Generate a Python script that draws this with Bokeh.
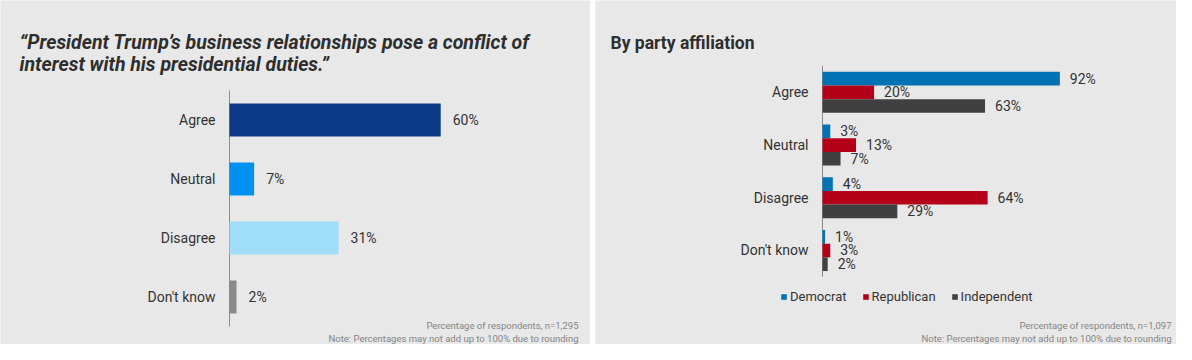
from bokeh.plotting import figure
from bokeh.models import Range1d, Label, Legend, LegendItem, ColumnDataSource
from bokeh.layouts import row
from bokeh.transform import dodge
from bokeh.embed import file_html
from bokeh.resources import INLINE
from bokeh.core.properties import value

# ---------------- data ----------------
categories = ["Agree", "Neutral", "Disagree", "Don't know"]
overall = [60, 7, 31, 2]
overall_colors = ["#0b3a87", "#0091f0", "#9fddf9", "#8a8a8a"]

parties = ["Democrat", "Republican", "Independent"]
democrat = [92, 3, 4, 1]
republican = [20, 13, 64, 3]
independent = [63, 7, 29, 2]
party_colors = ["#0071b3", "#b5001a", "#404040"]

title_left_1 = "\u201cPresident Trump\u2019s business relationships pose a conflict of"
title_left_2 = "interest with his presidential duties.\u201d"
title_right = "By party affiliation"
note_left_1 = "Percentage of respondents, n=1,295"
note_right_1 = "Percentage of respondents, n=1,097"
note_2 = "Note: Percentages may not add up to 100% due to rounding"

BG = "#e8e8e8"
FONT = "Roboto"
TXT = "#333333"
H = 344
cat_pos = list(range(len(categories)))  # 0 = top row


def base_fig(width, axis_x, px_per_pct, first_center, px_per_cat):
    xr = Range1d(-axis_x / px_per_pct, (width - axis_x) / px_per_pct)
    yr = Range1d((H - first_center) / px_per_cat, -first_center / px_per_cat)
    p = figure(width=width, height=H, output_backend="svg", toolbar_location=None,
               x_range=xr, y_range=yr, x_axis_location=None, y_axis_location=None,
               min_border=0, min_border_left=0, min_border_right=0,
               min_border_top=0, min_border_bottom=0)
    p.background_fill_color = BG
    p.border_fill_color = BG
    p.outline_line_color = None
    p.xgrid.visible = False
    p.ygrid.visible = False
    # axis line along the category bands
    p.segment(x0=[0], x1=[0], y0=[cat_pos[0] - 0.5], y1=[cat_pos[-1] + 0.5],
              line_color="#8c8c8c", line_width=1)
    # category labels
    csrc = ColumnDataSource(dict(y=cat_pos, t=categories))
    p.text(x=0, y="y", text="t", source=csrc, x_offset=-14, text_align="right",
           text_baseline="middle", text_font=value(FONT), text_font_size="14px",
           text_color=TXT)
    return p


def add_label(p, x, y, text, size, style="normal", color=TXT, align="left", baseline="alphabetic"):
    p.add_layout(Label(x=x, y=y, x_units="screen", y_units="screen", text=text,
                       text_font=FONT, text_font_size=size, text_font_style=style,
                       text_color=color, text_align=align, text_baseline=baseline))


# ---------------- left chart ----------------
W1 = 590
p1 = base_fig(W1, 229, 3.52, 119.5, 59.0)
src1 = ColumnDataSource(dict(y=cat_pos, val=overall, col=overall_colors,
                             lab=[f"{v}%" for v in overall]))
p1.hbar(y="y", right="val", left=0, height=0.56, fill_color="col", line_color=None, source=src1)
p1.text(x="val", y="y", text="lab", source=src1, x_offset=12, text_baseline="middle",
        text_font=value(FONT), text_font_size="14px", text_color=TXT)

add_label(p1, 19, H - 42, title_left_1, "19.5px", "bold italic", "#2e2e2e")
add_label(p1, 19, H - 64, title_left_2, "19.5px", "bold italic", "#2e2e2e")
add_label(p1, 578, H - 325, note_left_1, "9.5px", color="#858585", align="right", baseline="middle")
add_label(p1, 578, H - 338, note_2, "9.5px", color="#858585", align="right", baseline="middle")

# ---------------- right chart ----------------
W2 = 581
p2 = base_fig(W2, 227, 2.58, 91.8, 52.73)
src2 = ColumnDataSource(dict(y=cat_pos, dem=democrat, rep=republican, ind=independent,
                             dem_l=[f"{v}%" for v in democrat],
                             rep_l=[f"{v}%" for v in republican],
                             ind_l=[f"{v}%" for v in independent]))
offsets = [-0.26, 0.0, 0.26]
items = []
for key, name, col, off in zip(["dem", "rep", "ind"], parties, party_colors, offsets):
    r = p2.hbar(y=dodge("y", off), right=key, left=0, height=0.26,
                fill_color=col, line_color=None, source=src2)
    p2.text(x=key, y=dodge("y", off), text=key + "_l", source=src2,
            x_offset=10, text_baseline="middle", text_font=value(FONT),
            text_font_size="14px", text_color=TXT)
    items.append(LegendItem(label=name, renderers=[r]))

legend = Legend(items=items, orientation="horizontal", location=(185, 40),
                glyph_width=7, glyph_height=7, label_standoff=3, spacing=15,
                padding=0, margin=0, border_line_color=None, background_fill_alpha=0,
                label_text_font=FONT, label_text_font_size="13px", label_text_color=TXT,
                label_height=14)
p2.add_layout(legend, "center")

add_label(p2, 15, H - 42, title_right, "17.5px", "bold", "#2e2e2e")
add_label(p2, 576, H - 325, note_right_1, "9.5px", color="#858585", align="right", baseline="middle")
add_label(p2, 576, H - 338, note_2, "9.5px", color="#858585", align="right", baseline="middle")

layout = row(p1, p2, spacing=5)
open("out.html", "w").write(file_html(layout, INLINE))
